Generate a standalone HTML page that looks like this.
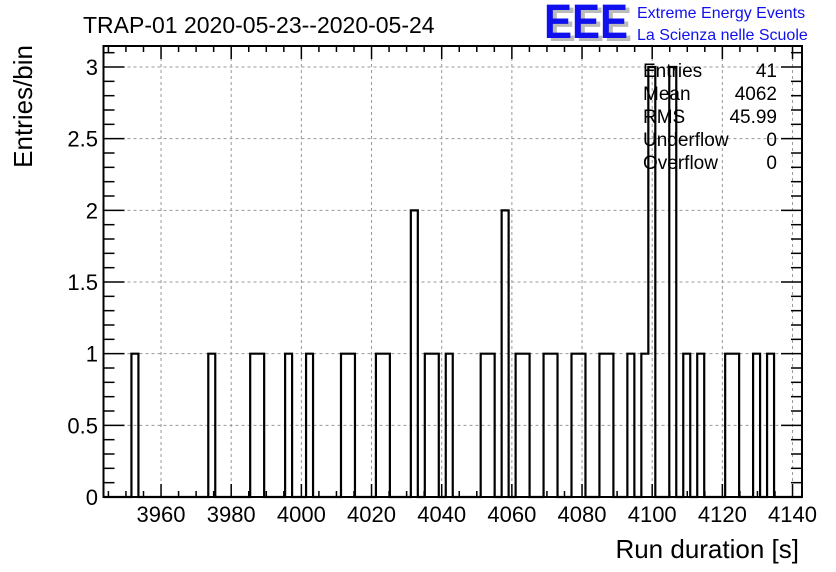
<!DOCTYPE html>
<html><head><meta charset="utf-8"><style>
html,body{margin:0;padding:0;background:#fff;}
svg{display:block;font-family:"Liberation Sans",sans-serif;}
</style></head><body>
<svg id="c" width="836" height="572" viewBox="0 0 836 572">
<g id="grid"></g>
<g id="hist"></g>
<g id="axes"></g>
<text x="83" y="33" font-size="23">TRAP-01 2020-05-23--2020-05-24</text>
<g>
<text x="548" y="41" font-size="48" font-weight="bold" fill="#bbb" textLength="84" lengthAdjust="spacingAndGlyphs">EEE</text>
<text x="544" y="38" font-size="48" font-weight="bold" fill="#1010ee" textLength="84" lengthAdjust="spacingAndGlyphs">EEE</text>
<text x="637" y="18" font-size="16" fill="#1010ee">Extreme Energy Events</text>
<text x="637" y="40" font-size="16" fill="#1010ee">La Scienza nelle Scuole</text>
</g>
<g id="stats" font-size="19"></g>
<text x="799" y="558" font-size="26" text-anchor="end">Run duration [s]</text>
<text transform="translate(32,45) rotate(-90)" font-size="26" text-anchor="end">Entries/bin</text>
</svg>
<script>
const xMin = 3943.6, xMax = 4142.7, nBins = 100;
const binWidth = (xMax - xMin) / nBins;
const filledBins = [4,15,21,22,26,29,34,35,39,40,44,46,47,49,54,55,57,59,60,63,64,67,68,71,72,75,77,78,81,83,85,89,90,93,95];
const filledCounts = [1,1,1,1,1,1,1,1,1,1,2,1,1,1,1,1,2,1,1,1,1,1,1,1,1,1,1,3,3,1,1,1,1,1,1];
const xTickLabels = [3960,3980,4000,4020,4040,4060,4080,4100,4120,4140];
const yTickLabels = [0,0.5,1,1.5,2,2.5,3];
const statNames = ["Entries","Mean","RMS","Underflow","Overflow"];
const statValues = ["41","4062","45.99","0","0"];

const L=103.5,R=802,T=46,B=497,yMax=(B-T)/143.33;
const NS="http://www.w3.org/2000/svg";
function X(v){return L+(v-xMin)/(xMax-xMin)*(R-L);}
function Y(v){return B-v/yMax*(B-T);}
function mk(parent,tag,attrs){const e=document.createElementNS(NS,tag);for(const k in attrs)e.setAttribute(k,attrs[k]);parent.appendChild(e);return e;}
const grid=document.getElementById('grid'),axes=document.getElementById('axes'),hist=document.getElementById('hist'),stats=document.getElementById('stats');
// grid
xTickLabels.forEach(v=>{const g=mk(grid,'line',{x1:X(v),x2:X(v),y1:T,y2:B,stroke:'#999','stroke-dasharray':'3,3','stroke-width':1});

});
yTickLabels.forEach(v=>{const g=mk(grid,'line',{x1:L,x2:R,y1:Y(v),y2:Y(v),stroke:'#999','stroke-dasharray':'3,3','stroke-width':1});

});
// histogram
const counts=new Array(nBins).fill(0);
filledBins.forEach((b,i)=>counts[b]=filledCounts[i]);
let d='M'+X(xMin)+','+Y(0);
for(let i=0;i<nBins;i++){const x0=X(xMin+i*binWidth),x1=X(xMin+(i+1)*binWidth);d+=' L'+x0+','+Y(counts[i])+' L'+x1+','+Y(counts[i]);}
d+=' L'+X(xMax)+','+Y(0);
const p=mk(hist,'path',{d:d,fill:'none',stroke:'#000','stroke-width':2.2});


// frame
const fr=mk(axes,'rect',{x:L,y:T,width:R-L,height:B-T,fill:'none',stroke:'#000','stroke-width':2});


// x ticks
for(let v=3945;v<=4140;v+=5){const maj=v%20===0;const len=maj?13:6;
mk(axes,'line',{x1:X(v),x2:X(v),y1:B,y2:B-len,stroke:'#000','stroke-width':1.5});
mk(axes,'line',{x1:X(v),x2:X(v),y1:T,y2:T+len,stroke:'#000','stroke-width':1.5});}
xTickLabels.forEach(v=>{const t=mk(axes,'text',{x:X(v),y:522,'font-size':22,'text-anchor':'middle'});t.textContent=v;

});
// y ticks
for(let k=0;k<=31;k++){const v=k/10;const maj=k%5===0;const len=maj?21:11;
mk(axes,'line',{x1:L,x2:L+len,y1:Y(v),y2:Y(v),stroke:'#000','stroke-width':1.5});
mk(axes,'line',{x1:R,x2:R-len,y1:Y(v),y2:Y(v),stroke:'#000','stroke-width':1.5});}
yTickLabels.forEach(v=>{const t=mk(axes,'text',{x:98,y:Y(v)+8,'font-size':22,'text-anchor':'end'});t.textContent=v;

});
// stats
statNames.forEach((n,i)=>{const y=77+i*23;
const a=mk(stats,'text',{x:643,y:y});a.textContent=n;


const b=mk(stats,'text',{x:777,y:y,'text-anchor':'end'});b.textContent=statValues[i];

});
</script>
</body></html>
